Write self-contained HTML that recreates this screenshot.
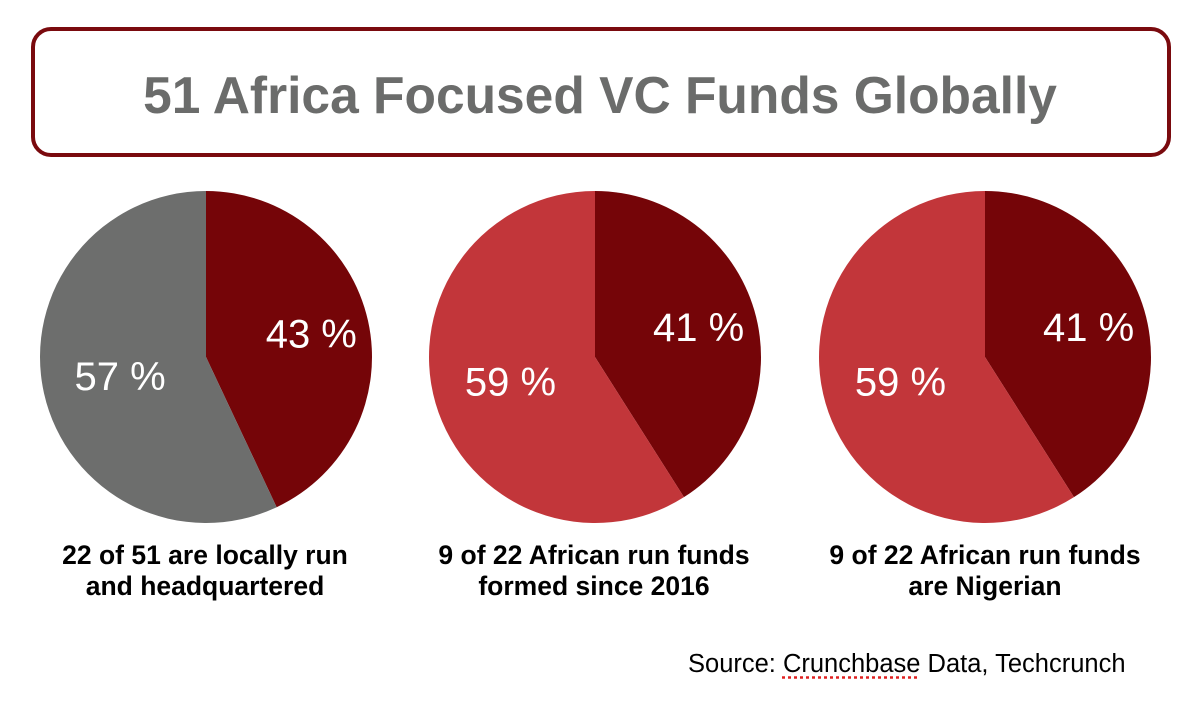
<!DOCTYPE html>
<html><head><meta charset="utf-8"><style>
body{margin:0;width:1200px;height:707px;background:#fff;overflow:hidden;font-family:"Liberation Sans",Arial,sans-serif;position:relative}
#title-box{position:absolute;left:31px;top:27px;width:1132px;height:122px;border:4px solid #7a0a0e;border-radius:20px;box-sizing:content-box}
#title{position:absolute;left:0;right:0;top:70px;text-align:center;font-weight:bold;font-size:51.5px;color:#6b6c6b;line-height:51px;margin:0}
.cap{position:absolute;width:420px;text-align:center;font-weight:bold;font-size:26.5px;line-height:31px;color:#000;top:540px}
#source{position:absolute;left:688px;top:650px;font-size:25.5px;color:#000}
#source .sp{text-decoration:underline dotted #e02020;text-underline-offset:4px}
</style></head><body>
<div id="title-box"></div>
<h1 id="title">51 Africa Focused VC Funds Globally</h1>
<svg id="pies" width="1200" height="707" style="position:absolute;left:0;top:0"></svg>
<div class="cap" style="left:-5px">22 of 51 are locally run<br>and headquartered</div>
<div class="cap" style="left:384px">9 of 22 African run funds<br>formed since 2016</div>
<div class="cap" style="left:775px">9 of 22 African run funds<br>are Nigerian</div>
<div id="source">Source: <span class="sp">Crunchbase</span> Data, Techcrunch</div>
<script>
const pieNames = ['locally-run','formed-since-2016','nigerian'];
const primaryValues = [43, 41, 41];
const secondaryValues = [57, 59, 59];
const primaryLabels = ['43 %','41 %','41 %'];
const secondaryLabels = ['57 %','59 %','59 %'];
const svg = document.getElementById('pies');
const NS = 'http://www.w3.org/2000/svg';
const centers = [206, 595, 985], cy = 357, r = 166;
const secColors = ['#6d6e6d','#c2363a','#c2363a'];
function pt(cx, frac, rad){const a=frac*2*Math.PI;return [cx+rad*Math.sin(a), cy-rad*Math.cos(a)];}
function arc(cx, f0, f1, color, name){
  const p0=pt(cx,f0,r), p1=pt(cx,f1,r), large=(f1-f0)>0.5?1:0;
  const p=document.createElementNS(NS,'path');
  p.setAttribute('d',`M${cx},${cy} L${p0[0]},${p0[1]} A${r},${r} 0 ${large} 1 ${p1[0]},${p1[1]} Z`);
  p.setAttribute('fill',color);
  
  
  svg.appendChild(p);
}
function label(cx, frac, rad, txt, name){
  const q=pt(cx,frac,rad);
  const t=document.createElementNS(NS,'text');
  t.setAttribute('x',q[0]);t.setAttribute('y',q[1]+14);
  t.setAttribute('text-anchor','middle');t.setAttribute('fill','#fff');
  t.setAttribute('font-size','40');t.setAttribute('font-family','"Liberation Sans",Arial,sans-serif');
  t.textContent=txt;
  
  
  svg.appendChild(t);
}
pieNames.forEach((n,i)=>{
  const tot=primaryValues[i]+secondaryValues[i];
  const f=primaryValues[i]/tot;
  arc(centers[i],0,f,'#750508','slice-primary-'+n);
  arc(centers[i],f,1,secColors[i],'slice-secondary-'+n);
  label(centers[i],f/2,r*0.65,primaryLabels[i],'label-primary-'+n);
  label(centers[i],f+(1-f)/2,r*0.53,secondaryLabels[i],'label-secondary-'+n);
});
</script>
</body></html>
